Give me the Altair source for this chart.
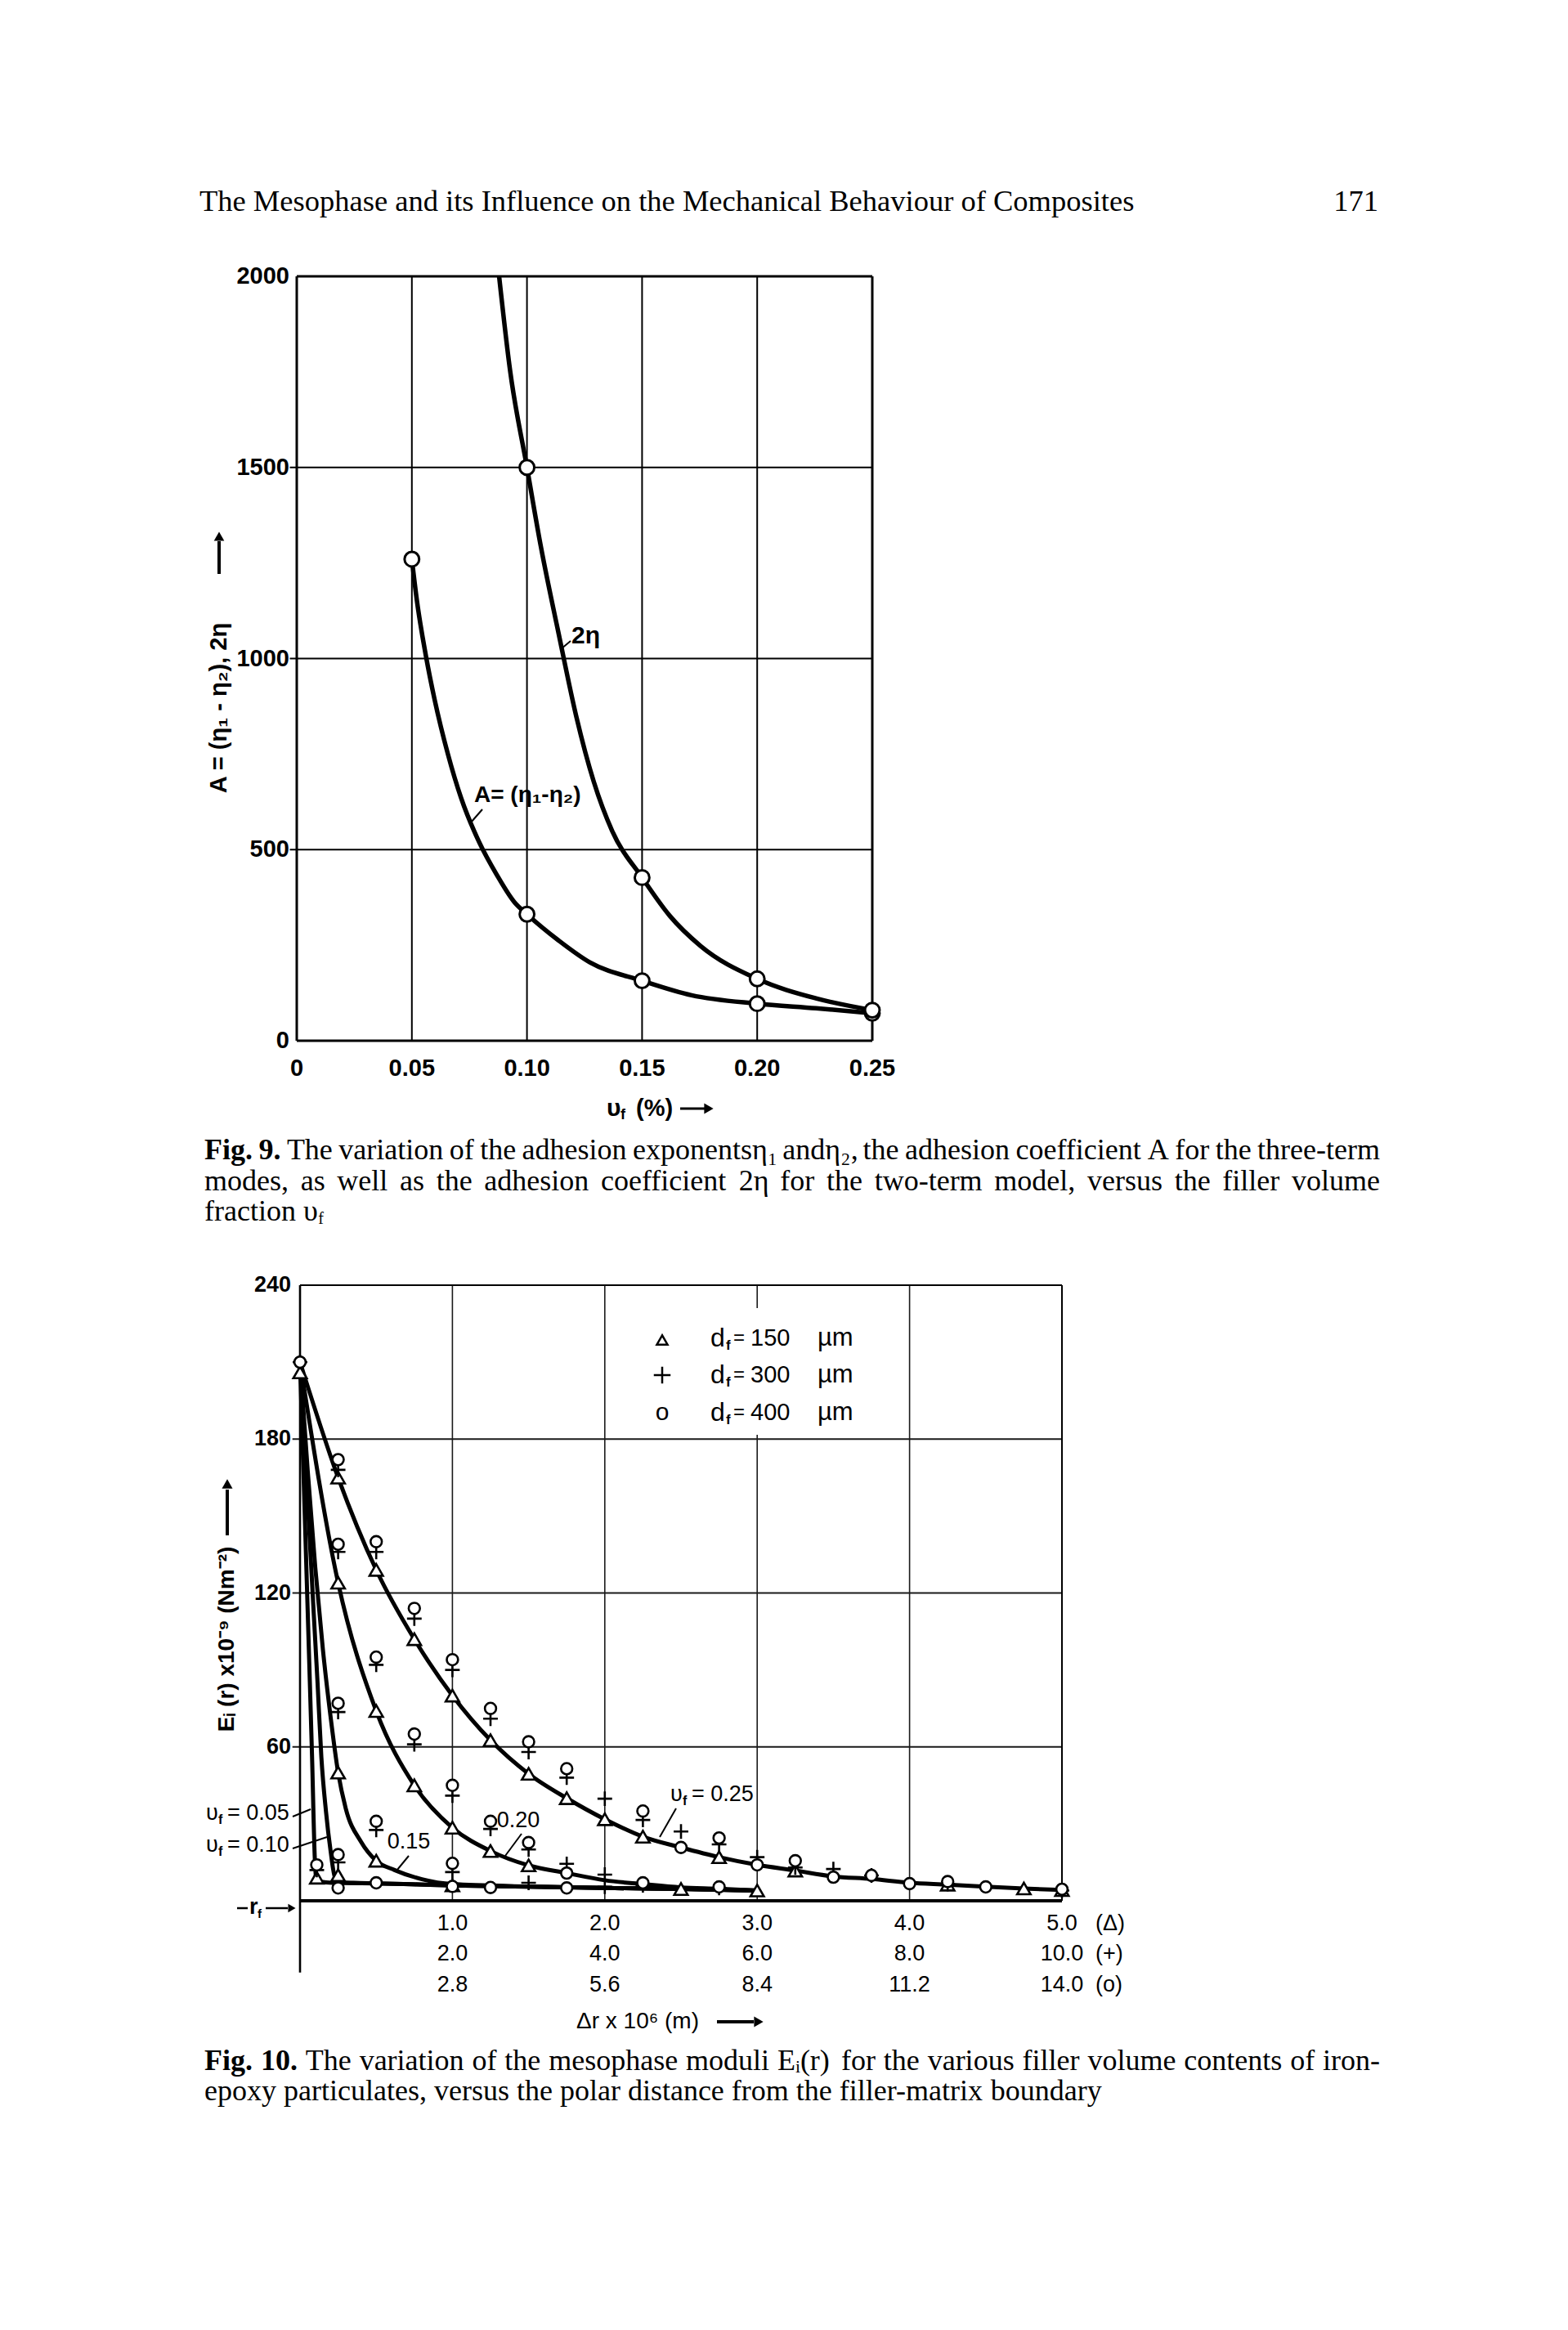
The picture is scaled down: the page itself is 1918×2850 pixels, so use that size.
import altair as alt
import pandas as pd

# ---------------- data: Fig. 9 ----------------
F9_XTICKS = [0, 0.05, 0.10, 0.15, 0.20, 0.25]
F9_XLABELS = ["0", "0.05", "0.10", "0.15", "0.20", "0.25"]
F9_YTICKS = [0, 500, 1000, 1500, 2000]
F9_YLABELS = ["0", "500", "1000", "1500", "2000"]
F9_VGRID = [0.05, 0.10, 0.15, 0.20]
F9_HGRID = [500, 1000, 1500]

F9_A_X = [0.05, 0.10, 0.15, 0.20, 0.25]
F9_A_Y = [1260, 331, 157, 97, 72]
F9_E_X = [0.10, 0.15, 0.20, 0.25]
F9_E_Y = [1500, 427, 162, 80]

F9_A_CURVE_X = [0.05, 0.0522, 0.0561, 0.0599, 0.0657, 0.0714, 0.0792, 0.0869, 0.0946,
                0.10, 0.1138, 0.1273, 0.15, 0.1715, 0.20, 0.2255, 0.25]
F9_A_CURVE_Y = [1260, 1151, 1007, 892, 749, 635, 520, 434, 362,
                331, 262, 205, 157, 119, 97, 85, 72]
F9_E_CURVE_X = [0.0879, 0.0927, 0.10, 0.106, 0.1138, 0.1214, 0.129, 0.137,
                0.15, 0.162, 0.1754, 0.20, 0.2255, 0.25]
F9_E_CURVE_Y = [2000, 1752, 1500, 1294, 1064, 849, 678, 549,
                427, 327, 248, 162, 111, 80]

# ---------------- data: Fig. 10 ----------------
F10_YTICKS = [60, 120, 180, 240]
F10_YLABELS = ["60", "120", "180", "240"]
F10_VGRID = [1, 2, 3, 4]
F10_HGRID = [60, 120, 180]
F10_XT = [1, 2, 3, 4, 5]
F10_ROW1 = ["1.0", "2.0", "3.0", "4.0", "5.0"]
F10_ROW2 = ["2.0", "4.0", "6.0", "8.0", "10.0"]
F10_ROW3 = ["2.8", "5.6", "8.4", "11.2", "14.0"]

C25_X = [0, 0.25, 0.5, 0.75, 1.0, 1.25, 1.5, 1.75, 2.0, 2.25, 2.5, 2.75, 3.0, 3.25, 3.5, 3.75, 4.0, 4.25, 4.5, 4.75, 5.0]
C25_Y = [210, 165, 129, 102, 80, 62.6, 49.5, 40, 31.8, 25, 20.8, 17, 14, 11.8, 9.5, 8.5, 7, 6.3, 5.5, 4.8, 4.2]
C20_X = [0, 0.25, 0.5, 0.75, 1.0, 1.25, 1.5, 1.75, 2.0, 2.25, 2.5, 2.75, 3.0]
C20_Y = [210, 124, 74, 45, 28.5, 19.4, 13.8, 10.8, 8, 6.5, 5.2, 4.7, 4.0]
C15_X = [0, 0.05, 0.1, 0.15, 0.2, 0.25, 0.3, 0.4, 0.5, 0.62, 0.8, 1.0, 1.5, 2.0, 2.5, 3.0]
C15_Y = [210, 168, 130, 98, 72, 50, 36, 23, 15.6, 12, 8.4, 6.5, 5.6, 5.0, 4.6, 4.0]
C10_X = [0, 0.03, 0.06, 0.09, 0.115, 0.14, 0.17, 0.2, 0.23, 0.27, 0.35, 0.5, 1.0, 1.5, 2.0, 2.5, 3.0]
C10_Y = [210, 178, 145, 112, 85, 56, 35, 19.7, 9, 7.2, 7.0, 6.8, 6.0, 5.5, 5.0, 4.6, 4.0]
C05_X = [0, 0.02, 0.04, 0.06, 0.079, 0.097, 0.105, 0.14, 0.21, 0.3, 0.5, 1.0, 1.5, 2.0, 2.5, 3.0]
C05_Y = [210, 172, 133, 94, 56, 16.5, 9, 7.4, 7.0, 6.9, 6.8, 6.0, 5.5, 5.0, 4.6, 4.0]

TRI_X = [0, 0.25, 0.5, 0.75, 1.0, 1.25, 1.5, 1.75, 2.0, 2.25, 2.75, 3.25, 4.25, 4.75, 5.0,
         0.25, 0.5, 0.75, 1.0, 1.25, 1.5, 0.25, 0.5, 1.0, 0.25, 0.11, 2.5, 3.0]
TRI_Y = [206, 165, 129, 102, 80, 62.6, 49.5, 40, 31.8, 25, 17, 11.8, 6.3, 4.8, 4.2,
         124, 74, 45, 28.5, 19.4, 13.8, 50, 15.6, 6, 10, 9, 4.6, 4.0]
PLUS_X = [0, 0.25, 0.5, 0.75, 1.0, 1.25, 1.5, 1.75, 2.0, 2.25, 2.5, 2.75, 3.0, 3.25, 3.5, 3.75, 4.25, 5.0,
          0.25, 0.5, 0.75, 1.0, 1.25, 1.5, 1.75, 2.0, 0.25, 0.5, 1.0, 1.5, 2.0, 0.25, 0.11, 2.25, 2.75]
PLUS_Y = [210, 168, 136, 110, 90, 71, 58, 48, 39.8, 31.5, 27, 22, 17, 13, 12.4, 9.9, 6.5, 4.0,
          136, 92, 61, 41, 28, 20, 14.4, 10.2, 73.6, 27.6, 11.2, 7.0, 5.5, 15, 12, 6.0, 5.0]
CIRC_X = [0, 0.25, 0.5, 0.75, 1.0, 1.25, 1.5, 1.75, 2.25, 2.5, 2.75, 3.0, 3.25, 3.5, 3.75, 4.0, 4.25, 4.5, 5.0,
          0.25, 0.5, 0.75, 1.0, 1.25, 1.5, 1.75, 0.25, 0.5, 1.0, 0.25, 0.11,
          0.5, 1.0, 1.25, 1.75, 2.25, 2.75, 0.25]
CIRC_Y = [210, 172, 140, 114, 94, 75, 62, 51.5, 35, 20.8, 24.5, 14, 15.6, 9.2, 9.9, 6.7, 7.5, 5.4, 4.5,
          139, 95, 65, 45, 31, 22.7, 10.8, 77, 31, 14.6, 18, 14,
          7.0, 5.6, 5.2, 5.0, 7.0, 5.4, 5.0]

# ---------------- page text ----------------
HEADER = "The Mesophase and its Influence on the Mechanical Behaviour of Composites"
PAGE_NO = "171"
CAP9 = [
    "Fig. 9. The variation of the adhesion exponentsη₁ andη₂, the adhesion coefficient A for the three-term",
    "modes, as well as the adhesion coefficient 2η for the two-term model, versus the filler volume",
    "fraction υ",
]
CAP10 = [
    "Fig. 10. The variation of the mesophase moduli Eᵢ(r) for the various filler volume contents of iron-",
    "epoxy particulates, versus the polar distance from the filler-matrix boundary",
]

# ---------------- styling ----------------
SERIF = "Liberation Serif, Times New Roman, serif"
SANS = "Liberation Sans, Arial, sans-serif"
ONE = pd.DataFrame({"k": [0]})

X9 = alt.Scale(domain=[0, 0.25], range=[363, 1067], nice=False, zero=False)
Y9 = alt.Scale(domain=[0, 2000], range=[1273, 338], nice=False, zero=False)
X10 = alt.Scale(domain=[0, 5], range=[367, 1299], nice=False, zero=False)
Y10 = alt.Scale(domain=[0, 240], range=[2325, 1572], nice=False, zero=False)

# Times (Liberation Serif) advance widths, per 1000 em, for justified caption layout
_TW = dict(zip("abcdefghijklmnopqrstuvwxyz",
               [444, 500, 444, 500, 444, 333, 500, 500, 278, 278, 500, 278, 778,
                500, 500, 500, 500, 333, 389, 278, 500, 500, 722, 500, 500, 444]))
_TW.update(dict(zip("ABCDEFGHIJKLMNOPQRSTUVWXYZ",
                    [722, 667, 667, 722, 611, 556, 722, 722, 333, 389, 722, 611, 889,
                     722, 722, 556, 722, 667, 556, 611, 722, 722, 944, 722, 722, 611])))
_TW.update({c: 500 for c in "0123456789"})
_TW.update({" ": 250, ",": 250, ".": 250, "-": 333, "(": 333, ")": 333,
            "η": 500, "υ": 480, "₁": 330, "₂": 330, "ᵢ": 280})


def tw(s, size, bold=False):
    w = sum(_TW.get(c, 500) for c in s) / 1000.0
    if bold and s.startswith("F"):
        w += 0.055
    return w * size


def xe(f, s):
    return alt.X(f, type="quantitative", scale=s, axis=None)


def ye(f, s):
    return alt.Y(f, type="quantitative", scale=s, axis=None)


def T(x, y, s, size=28, font=SANS, weight="normal", align="left", angle=0, baseline="middle"):
    return alt.Chart(ONE).mark_text(text=s, fontSize=size, font=font, fontWeight=weight,
                                    align=align, baseline=baseline, angle=angle,
                                    color="black").encode(x=alt.value(x), y=alt.value(y))


def L(x1, y1, x2, y2, w=2.0):
    return alt.Chart(ONE).mark_rule(color="black", strokeWidth=w).encode(
        x=alt.value(x1), y=alt.value(y1), x2=alt.value(x2), y2=alt.value(y2))


def head(x, y, shape, size=120):
    return alt.Chart(ONE).mark_point(shape=shape, filled=True, color="black", size=size,
                                     opacity=1).encode(x=alt.value(x), y=alt.value(y))


def caption_rows(line, y, size, left=250, right=1688, justify=True, nbold=0):
    words = line.split(" ")
    ws = [tw(w, size, i < nbold) for i, w in enumerate(words)]
    if justify and len(words) > 1:
        gap = max((right - left - sum(ws)) / (len(words) - 1), 0.15 * size)
    else:
        gap = 0.25 * size
    rows, x = [], left
    for i, (w, wd) in enumerate(zip(words, ws)):
        rows.append({"x": x, "y": y, "w": w, "b": i < nbold})
        x += wd + gap
    return rows, x - gap


layers = []

# ================= FIG 9 =================
vg9 = pd.DataFrame({"x": F9_VGRID, "y0": 0, "y1": 2000})
layers.append(alt.Chart(vg9).mark_rule(color="black", strokeWidth=2).encode(
    x=xe("x", X9), y=ye("y0", Y9), y2="y1"))
hg9 = pd.DataFrame({"y": F9_HGRID, "x0": -0.003, "x1": 0.25})
layers.append(alt.Chart(hg9).mark_rule(color="black", strokeWidth=2).encode(
    y=ye("y", Y9), x=xe("x0", X9), x2="x1"))
fv9 = pd.DataFrame({"x": [0, 0.25], "y0": 0, "y1": 2000})
layers.append(alt.Chart(fv9).mark_rule(color="black", strokeWidth=3).encode(
    x=xe("x", X9), y=ye("y0", Y9), y2="y1"))
fh9 = pd.DataFrame({"y": [0, 2000], "x0": 0, "x1": 0.25})
layers.append(alt.Chart(fh9).mark_rule(color="black", strokeWidth=3).encode(
    y=ye("y", Y9), x=xe("x0", X9), x2="x1"))

cur9 = pd.concat([
    pd.DataFrame({"x": F9_A_CURVE_X, "y": F9_A_CURVE_Y, "c": "A"}),
    pd.DataFrame({"x": F9_E_CURVE_X, "y": F9_E_CURVE_Y, "c": "2eta"}),
])
layers.append(alt.Chart(cur9).mark_line(color="black", strokeWidth=5.5, interpolate="monotone").encode(
    x=xe("x", X9), y=ye("y", Y9), detail="c:N"))
pts9 = pd.concat([
    pd.DataFrame({"x": F9_A_X, "y": F9_A_Y}),
    pd.DataFrame({"x": F9_E_X, "y": F9_E_Y}),
])
layers.append(alt.Chart(pts9).mark_point(shape="circle", filled=True, fill="white", stroke="black",
                                         strokeWidth=3, size=320, opacity=1).encode(
    x=xe("x", X9), y=ye("y", Y9)))

xl9 = pd.DataFrame({"v": F9_XTICKS, "t": F9_XLABELS})
layers.append(alt.Chart(xl9).mark_text(font=SANS, fontSize=29, fontWeight="bold", baseline="middle",
                                       align="center", color="black").encode(
    x=xe("v", X9), y=alt.value(1307), text="t:N"))
yl9 = pd.DataFrame({"v": F9_YTICKS, "t": F9_YLABELS})
layers.append(alt.Chart(yl9).mark_text(font=SANS, fontSize=29, fontWeight="bold", baseline="middle",
                                       align="right", color="black").encode(
    y=ye("v", Y9), x=alt.value(354), text="t:N"))

# curve labels
layers.append(T(699, 778, "2η", size=30, weight="bold"))
layers.append(L(698, 784, 686, 794, 2))
layers.append(T(580, 973, "A= (η₁-η₂)", size=28, weight="bold"))
layers.append(L(590, 990, 576, 1006, 2))

# axis titles
layers.append(T(268, 866, "A = (η₁ - η₂),   2η", size=29, weight="bold", align="center", angle=270))
layers.append(L(268, 702, 268, 662, 4))
layers.append(head(268, 656, "triangle-up", 160))
layers.append(T(742, 1356, "υ", size=30, weight="bold"))
layers.append(T(759, 1364, "f", size=18, weight="bold"))
layers.append(T(778, 1356, "(%)", size=29, weight="bold"))
layers.append(L(832, 1356, 862, 1356, 3))
layers.append(head(867, 1356, "triangle-right", 170))

# ================= FIG 10 =================
vg10 = pd.DataFrame({"x": F10_VGRID, "y0": 0, "y1": 240})
layers.append(alt.Chart(vg10).mark_rule(color="#1a1a1a", strokeWidth=1.6).encode(
    x=xe("x", X10), y=ye("y0", Y10), y2="y1"))
hg10 = pd.DataFrame({"y": F10_HGRID, "x0": -0.05, "x1": 5})
layers.append(alt.Chart(hg10).mark_rule(color="#1a1a1a", strokeWidth=1.8).encode(
    y=ye("y", Y10), x=xe("x0", X10), x2="x1"))
# white area behind the legend text
layers.append(alt.Chart(ONE).mark_rect(color="white").encode(
    x=alt.value(792), x2=alt.value(1058), y=alt.value(1600), y2=alt.value(1755)))
# frame
fl10 = pd.DataFrame({"x": [0], "y0": [-28], "y1": [240]})
layers.append(alt.Chart(fl10).mark_rule(color="black", strokeWidth=2.6).encode(
    x=xe("x", X10), y=ye("y0", Y10), y2="y1"))
fr10 = pd.DataFrame({"x": [5], "y0": [0], "y1": [240]})
layers.append(alt.Chart(fr10).mark_rule(color="black", strokeWidth=2).encode(
    x=xe("x", X10), y=ye("y0", Y10), y2="y1"))
ft10 = pd.DataFrame({"y": [240], "x0": [0], "x1": [5]})
layers.append(alt.Chart(ft10).mark_rule(color="black", strokeWidth=2).encode(
    y=ye("y", Y10), x=xe("x0", X10), x2="x1"))
fb10 = pd.DataFrame({"y": [0], "x0": [0], "x1": [5]})
layers.append(alt.Chart(fb10).mark_rule(color="black", strokeWidth=4).encode(
    y=ye("y", Y10), x=xe("x0", X10), x2="x1"))

cur10 = pd.concat([
    pd.DataFrame({"x": C25_X, "y": C25_Y, "c": "0.25"}),
    pd.DataFrame({"x": C20_X, "y": C20_Y, "c": "0.20"}),
    pd.DataFrame({"x": C15_X, "y": C15_Y, "c": "0.15"}),
    pd.DataFrame({"x": C10_X, "y": C10_Y, "c": "0.10"}),
    pd.DataFrame({"x": C05_X, "y": C05_Y, "c": "0.05"}),
])
layers.append(alt.Chart(cur10).mark_line(color="black", strokeWidth=5, interpolate="monotone").encode(
    x=xe("x", X10), y=ye("y", Y10), detail="c:N"))

tri = pd.DataFrame({"x": TRI_X, "y": TRI_Y})
layers.append(alt.Chart(tri).mark_point(shape="triangle-up", filled=True, fill="white", stroke="black",
                                        strokeWidth=2.6, size=270, opacity=1).encode(
    x=xe("x", X10), y=ye("y", Y10)))
plus = pd.DataFrame({"x": PLUS_X, "y": PLUS_Y})
layers.append(alt.Chart(plus).mark_point(shape="M-1,0L1,0M0,-1L0,1", filled=False, stroke="black",
                                         strokeWidth=2.6, size=320, opacity=1).encode(
    x=xe("x", X10), y=ye("y", Y10)))
circ = pd.DataFrame({"x": CIRC_X, "y": CIRC_Y})
layers.append(alt.Chart(circ).mark_point(shape="circle", filled=True, fill="white", stroke="black",
                                         strokeWidth=2.6, size=190, opacity=1).encode(
    x=xe("x", X10), y=ye("y", Y10)))

yl10 = pd.DataFrame({"v": F10_YTICKS, "t": F10_YLABELS})
layers.append(alt.Chart(yl10).mark_text(font=SANS, fontSize=27, fontWeight="bold", baseline="middle",
                                        align="right", color="black").encode(
    y=ye("v", Y10), x=alt.value(356), text="t:N"))
for rowy, row, tag in [(2353, F10_ROW1, "(Δ)"), (2390, F10_ROW2, "(+)"), (2428, F10_ROW3, "(o)")]:
    d = pd.DataFrame({"v": F10_XT, "t": row})
    layers.append(alt.Chart(d).mark_text(font=SANS, fontSize=27, baseline="middle", align="center",
                                         color="black").encode(
        x=xe("v", X10), y=alt.value(rowy), text="t:N"))
    layers.append(T(1340, rowy, tag, size=27))

# legend
LEG_Y = [1637, 1682, 1728]
layers.append(alt.Chart(ONE).mark_point(shape="triangle-up", filled=False, stroke="black",
                                        strokeWidth=2.5, size=170, opacity=1).encode(
    x=alt.value(810), y=alt.value(LEG_Y[0] + 2)))
layers.append(alt.Chart(ONE).mark_point(shape="M-1,0L1,0M0,-1L0,1", filled=False, stroke="black",
                                        strokeWidth=2.5, size=420, opacity=1).encode(
    x=alt.value(810), y=alt.value(LEG_Y[1])))
layers.append(T(810, LEG_Y[2], "o", size=30, align="center"))
for yy, val in zip(LEG_Y, ["150", "300", "400"]):
    layers.append(T(869, yy, "d", size=32))
    layers.append(T(888, yy + 9, "f", size=17, weight="bold"))
    layers.append(T(897, yy, "=", size=24))
    layers.append(T(918, yy, val, size=29))
    layers.append(T(1000, yy, "µm", size=31))

# curve annotations
for yy, val in [(2218, "0.05"), (2257, "0.10")]:
    layers.append(T(252, yy, "υ", size=27))
    layers.append(T(267, yy + 8, "f", size=16, weight="bold"))
    layers.append(T(278, yy, "= " + val, size=27))
layers.append(L(358, 2222, 380, 2213, 2))
layers.append(L(358, 2261, 400, 2247, 2))
layers.append(T(500, 2253, "0.15", size=27, align="center"))
layers.append(L(500, 2270, 486, 2287, 2))
layers.append(T(634, 2227, "0.20", size=27, align="center"))
layers.append(L(638, 2243, 618, 2270, 2))
layers.append(T(820, 2195, "υ", size=27))
layers.append(T(835, 2203, "f", size=16, weight="bold"))
layers.append(T(846, 2195, "= 0.25", size=27))
layers.append(L(827, 2212, 807, 2247, 2))

# -rf arrow
layers.append(L(290, 2334, 303, 2334, 2.5))
layers.append(T(305, 2333, "r", size=27, weight="bold"))
layers.append(T(315, 2341, "f", size=15, weight="bold"))
layers.append(L(325, 2334, 352, 2334, 2.5))
layers.append(head(357, 2334, "triangle-right", 110))

# axis titles
layers.append(T(278, 2005, "Eᵢ (r) x10⁻⁹ (Nm⁻²)", size=28, weight="bold", align="center", angle=270))
layers.append(L(278, 1878, 278, 1822, 4))
layers.append(head(278, 1815, "triangle-up", 170))
layers.append(T(705, 2473, "Δr x 10⁶ (m)", size=28))
layers.append(L(877, 2473, 922, 2473, 4))
layers.append(head(928, 2473, "triangle-right", 170))

# ================= page text =================
layers.append(T(244, 247, HEADER, size=36.5, font=SERIF))
layers.append(T(1686, 247, PAGE_NO, size=36.5, font=SERIF, align="right"))

CAP_SIZE = 36
rows = []
r, _ = caption_rows(CAP9[0], 1407, CAP_SIZE, nbold=2)
rows += r
r, _ = caption_rows(CAP9[1], 1445, CAP_SIZE)
rows += r
r, end9 = caption_rows(CAP9[2], 1482, CAP_SIZE, justify=False)
rows += r
r, _ = caption_rows(CAP10[0], 2521, CAP_SIZE, nbold=2)
rows += r
r, _ = caption_rows(CAP10[1], 2558, CAP_SIZE, justify=False)
rows += r
cap = pd.DataFrame(rows)
for bold in [False, True]:
    layers.append(alt.Chart(cap[cap["b"] == bold]).mark_text(
        font=SERIF, fontSize=CAP_SIZE, fontWeight="bold" if bold else "normal",
        align="left", baseline="middle", color="black").encode(
        x=alt.X("x:Q", scale=None), y=alt.Y("y:Q", scale=None), text="w:N"))
layers.append(T(end9 + 1, 1491, "f", size=20, font=SERIF))

chart = alt.layer(*layers).resolve_scale(x="independent", y="independent").properties(
    width=1918, height=2850, padding=0, background="white",
    autosize=alt.AutoSizeParams(type="none"),
).configure_view(stroke=None)

chart.save("out.html", embed_options={"renderer": "svg", "actions": False})
